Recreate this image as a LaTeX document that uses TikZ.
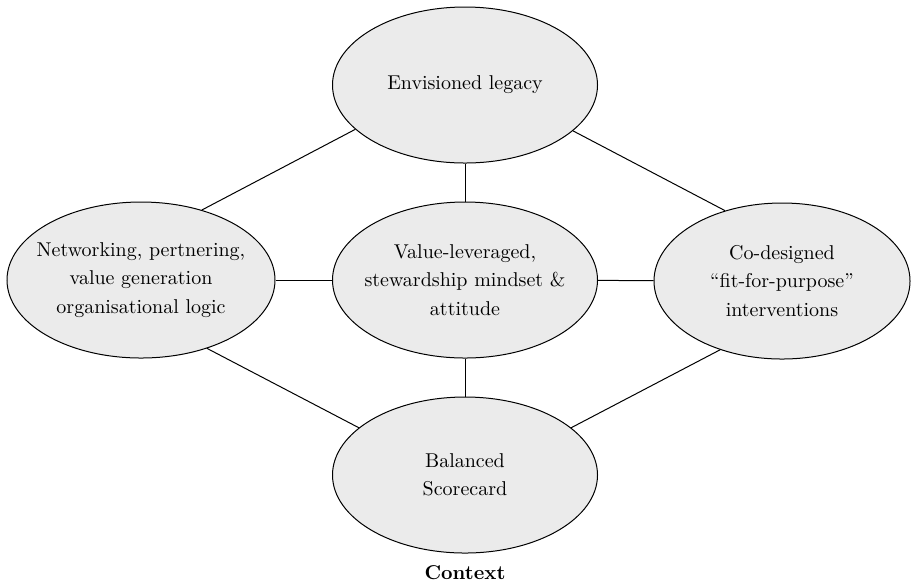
\documentclass[tikz,border=0pt]{standalone}
\usepackage{xcolor}
\definecolor{bub}{RGB}{235,235,235}
\usepackage{tikz}
\usetikzlibrary{shapes.geometric}

\begin{document}
\begin{tikzpicture}[x=0.5pt,y=-0.5pt,
    bubble/.style={ellipse,draw,fill=bub,line width=0.5pt,
      inner xsep=-30pt,inner ysep=-15pt,
      minimum width=132.5pt,minimum height=78pt,align=center,
      font=\fontsize{10}{14.2}\selectfont}]
    \useasboundingbox (0,0) rectangle (913,586);

    \node [bubble] (legacy) at (465,85) {Envisioned legacy};
    \node [bubble,minimum width=134pt] (network) at (141,280)
      {Networking, pertnering,\\ value generation\\ organisational logic};
    \node [bubble] (mindset) at (465,280)
      {Value-leveraged,\\ stewardship mindset \&\\ attitude};
    \node [bubble,minimum width=128pt] (design) at (782,281)
      {Co-designed\\ ``fit-for-purpose''\\ interventions};
    \node [bubble] (score) at (465,475) {Balanced\\ Scorecard};

    \node [font=\bfseries] (context) at (465,573) {Context};

    \draw [line width=0.5pt] (legacy.202) -- (network.49);
    \draw [line width=0.5pt] (legacy.337) -- (design.129);
    \draw [line width=0.5pt] (legacy) -- (mindset);
    \draw [line width=0.5pt] (network) -- (mindset);
    \draw [line width=0.5pt] (mindset) -- (design);
    \draw [line width=0.5pt] (mindset) -- (score);
    \draw [line width=0.5pt] (network.314) -- (score.156);
    \draw [line width=0.5pt] (design.228) -- (score.24);
  \end{tikzpicture}
\end{document}
